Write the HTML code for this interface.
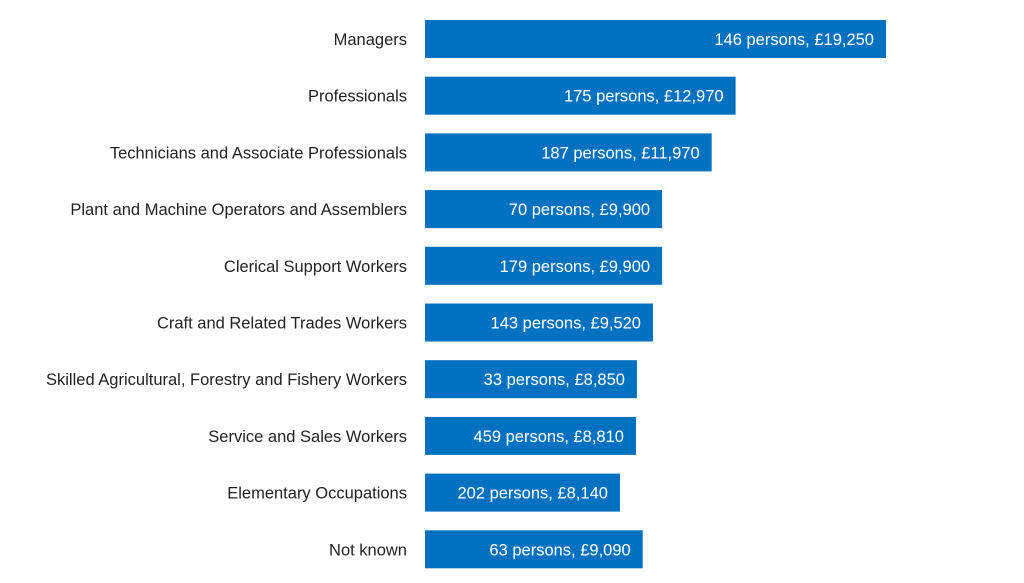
<!DOCTYPE html>
<html><head><meta charset="utf-8"><style>
body{margin:0;background:#fff;width:1024px;height:578px;overflow:hidden;font-family:"Liberation Sans",sans-serif}
</style></head><body>
<svg id="chart" width="1024" height="578" xmlns="http://www.w3.org/2000/svg"></svg>
<script>
const categories=["Managers","Professionals","Technicians and Associate Professionals","Plant and Machine Operators and Assemblers","Clerical Support Workers","Craft and Related Trades Workers","Skilled Agricultural, Forestry and Fishery Workers","Service and Sales Workers","Elementary Occupations","Not known"];
const values=[19250,12970,11970,9900,9900,9520,8850,8810,8140,9090];
const persons=[146,175,187,70,179,143,33,459,202,63];
const svg=document.getElementById('chart');
const NS='http://www.w3.org/2000/svg';
const x0=425, pxPer=461/19250;
const xScale=v=>v*pxPer;
const yTop=20, step=56.7, barH=38;
const yScale=i=>yTop+i*step;
const fmt=v=>'£'+v.toLocaleString('en-GB');
categories.forEach((c,i)=>{
  const y=yScale(i), w=xScale(values[i]);
  const r=document.createElementNS(NS,'rect');
  
  
  r.setAttribute('x',x0);r.setAttribute('y',y);r.setAttribute('width',w);r.setAttribute('height',barH);r.setAttribute('fill','#0070C0');
  svg.appendChild(r);
  const l=document.createElementNS(NS,'text');
  
  
  l.setAttribute('x',407);l.setAttribute('y',y+barH/2+6);l.setAttribute('text-anchor','end');l.setAttribute('font-size','16.5');l.setAttribute('fill','#222');
  l.textContent=c;svg.appendChild(l);
  const t=document.createElementNS(NS,'text');
  
  
  t.setAttribute('x',x0+w-12);t.setAttribute('y',y+barH/2+6);t.setAttribute('text-anchor','end');t.setAttribute('font-size','16.5');t.setAttribute('fill','#fff');
  t.textContent=persons[i]+' persons, '+fmt(values[i]);svg.appendChild(t);
});
</script>
</body></html>
